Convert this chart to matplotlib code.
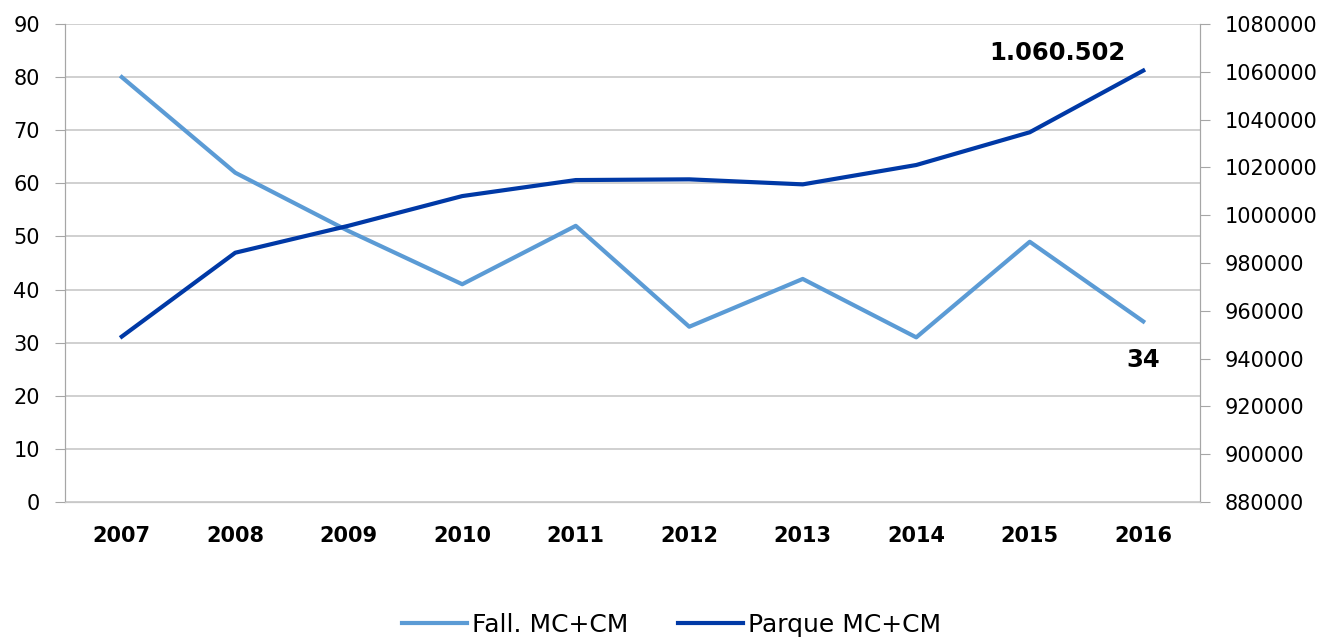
import matplotlib
matplotlib.use("Agg")
import matplotlib.pyplot as plt
from matplotlib.ticker import FuncFormatter

# data
years = ["2007", "2008", "2009", "2010", "2011", "2012", "2013", "2014", "2015", "2016"]
fall = [80, 62, 51, 41, 52, 33, 42, 31, 49, 34]
parque = [949200, 984300, 995600, 1008000, 1014700, 1015000, 1012900, 1021000, 1034700, 1060502]

light = "#5B9BD5"
dark = "#0039A6"
grid_c = "#C8C8C8"
axis_c = "#A6A6A6"

plt.rcParams["font.family"] = ["DejaVu Sans"]

fig = plt.figure(figsize=(13.3, 6.39), dpi=100)
ax = fig.add_axes([65 / 1330, 137 / 639, 1135 / 1330, 478 / 639])
ax2 = ax.twinx()

x = list(range(len(years)))
l1, = ax.plot(x, fall, color=light, lw=3, label="Fall. MC+CM", zorder=3)
l2, = ax2.plot(x, parque, color=dark, lw=3, label="Parque MC+CM", zorder=3)

ax.set_xlim(-0.5, len(years) - 0.5)
ax.set_ylim(0, 90)
ax.set_yticks(range(0, 91, 10))
ax2.set_ylim(880000, 1080000)
ax2.set_yticks(range(880000, 1080001, 20000))
ax2.yaxis.set_major_formatter(FuncFormatter(lambda v, p: f"{int(v)}"))

ax.grid(axis="y", color=grid_c, lw=1.2, zorder=0)
ax.set_axisbelow(True)
ax.set_xticks(x)
ax.set_xticklabels(years, fontsize=15, fontweight="bold")
ax.tick_params(axis="x", length=0, pad=17)
ax.tick_params(axis="y", labelsize=15, length=7, color=axis_c, pad=11)
ax2.tick_params(axis="y", labelsize=15, length=7, color=axis_c, pad=11)

for a in (ax, ax2):
    a.spines["top"].set_visible(False)
    a.spines["bottom"].set_color(grid_c)
    a.spines["left"].set_color(axis_c)
    a.spines["right"].set_color(axis_c)
    a.patch.set_visible(False)

# end labels
ax2.annotate("1.060.502", (x[-1], parque[-1]), xytext=(-62, 13), textcoords="offset points",
             ha="center", va="center", fontsize=17.5, fontweight="bold")
ax.annotate(str(fall[-1]), (x[-1], fall[-1]), xytext=(0, -28), textcoords="offset points",
            ha="center", va="center", fontsize=17.5, fontweight="bold")

fig.legend(handles=[l1, l2], loc="center", bbox_to_anchor=(0.505, 0.022), ncol=2,
           frameon=False, fontsize=18, handlelength=2.6, columnspacing=2.0, handletextpad=0.2)

fig.savefig("out.png", dpi=100)
